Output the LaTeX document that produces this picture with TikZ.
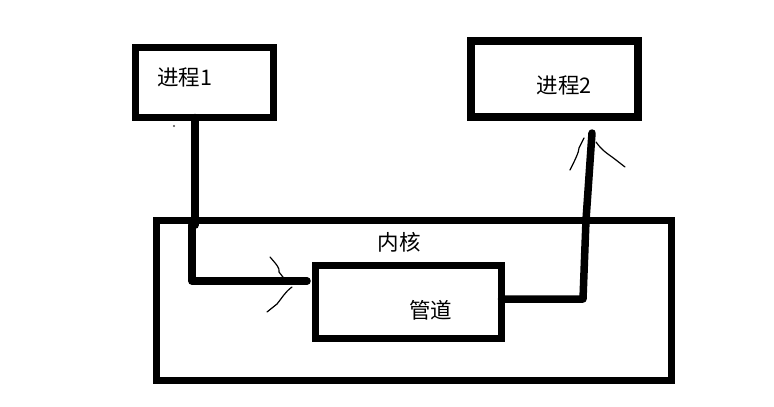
\documentclass[tikz,border=0pt]{standalone}
\usepackage{fontspec}
\setmainfont{Noto Sans CJK SC}
\begin{document}
\begin{tikzpicture}[x=1pt,y=-1pt,
  boxed/.style={draw,line width=#1,rectangle,inner sep=0pt,outer sep=0pt},
  lbl/.style={font=\fontsize{21.5}{23}\selectfont,inner sep=0pt},
  conn/.style={line width=7.5pt,line cap=round,line join=round},
  hand/.style={line width=1.2pt,line cap=round}]
\useasboundingbox[fill=white] (0,0) rectangle (774,407);
% boxes
\node[boxed=7pt,minimum width=138pt,minimum height=70pt] (p1) at (204.5,82.5) {};
\node[boxed=8pt,minimum width=167pt,minimum height=76pt] (p2) at (554.5,79) {};
\node[boxed=7pt,minimum width=515pt,minimum height=160pt] (kern) at (414,300.5) {};
\node[boxed=7pt,minimum width=186pt,minimum height=73pt] (pipe) at (408.5,302) {};
% texts
\node[lbl] (t1) at (184.5,77) {进程1};
\node[lbl] (t2) at (564,85) {进程2};
\node[lbl] (tk) at (399,242) {内核};
\node[lbl] (tp) at (430.5,310) {管道};
% stray dot
\fill[black!70] (174,126) circle (1.1pt);
% connector 1: 进程1 -> 管道
\coordinate (a1) at (p1.south -| 195,0);
\coordinate (a2) at (192,225);
\coordinate (a3) at (192,281);
\coordinate (a4) at (307,281);
\draw[conn] (a1) -- (195,225) -- (a2) -- (a3) -- (a4);
\draw[hand] (270,257) .. controls (276,264) and (280,268) .. (279,272) -- (286,281);
\draw[hand] (292,287) .. controls (285,292) and (282,298) .. (277,304) -- (267,312);
% connector 2: 管道 -> 进程2
\coordinate (b1) at (pipe.east |- 0,299);
\coordinate (b2) at (583,299);
\coordinate (b3) at (586,220);
\coordinate (b4) at (592,133);
\draw[conn] (b1) -- (b2) -- (b3) -- (b4);
\draw[hand] (570,170) .. controls (575,160) and (579,152) .. (579,148) -- (584,138);
\draw[hand] (596,142) .. controls (603,152) and (610,155) .. (616,160) -- (625,167);
\end{tikzpicture}
\end{document}
